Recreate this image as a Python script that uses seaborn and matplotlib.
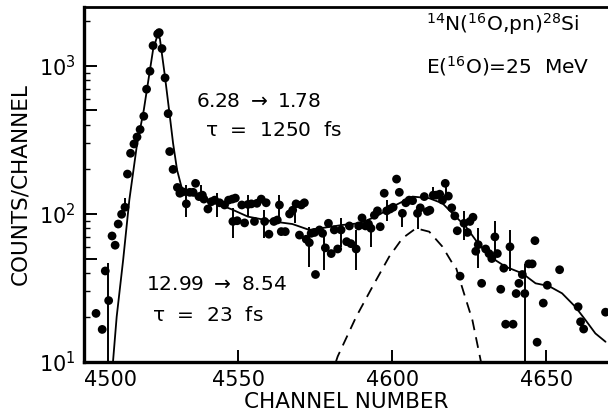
# 14N(16O,pn)28Si spectrum: counts per channel, log scale, with the lineshape
# fit (solid) and the fast 12.99 -> 8.54 component (dashed).
# Values.

import numpy as np
import pandas as pd
import seaborn as sns
import matplotlib.pyplot as plt
from matplotlib.ticker import FixedLocator, FixedFormatter, NullLocator

# measured points
chan = [4503.9, 4505.9, 4506.9, 4508.0, 4509.1, 4510.1, 4511.1, 4512.2, 4513.3, 4514.1,
        4515.1, 4516.2, 4517.2, 4518.2, 4519.4, 4520.3, 4521.4, 4522.4, 4523.9, 4524.4,
        4525.3, 4526.3, 4527.3, 4527.8, 4528.9, 4530.3, 4531.1, 4532.1, 4533.2, 4534.3,
        4535.4, 4536.2, 4537.3, 4538.4, 4538.9, 4540.2, 4541.3, 4542.4, 4544.0, 4545.6,
        4546.9, 4548.1, 4549.1, 4548.3, 4549.7, 4551.2, 4552.1, 4553.2, 4554.3, 4555.3,
        4556.1, 4557.5, 4558.6, 4559.1, 4560.0, 4561.6, 4562.7, 4563.4, 4564.0, 4565.3,
        4566.7, 4567.7, 4568.8, 4570.5, 4571.5, 4569.9, 4572.1, 4573.1, 4573.7, 4574.8,
        4575.1, 4576.4, 4577.4, 4578.3, 4579.3, 4580.2, 4581.2, 4582.3, 4583.4, 4585.2,
        4586.6, 4586.1, 4588.3, 4589.1, 4590.2, 4591.3, 4592.3, 4593.1, 4594.2, 4595.2,
        4596.1, 4597.4, 4598.2, 4599.3, 4600.3, 4601.4, 4602.3, 4603.3, 4604.4, 4605.5,
        4606.6, 4608.2, 4609.1, 4610.4, 4611.4, 4612.2, 4613.3, 4614.3, 4615.4, 4616.3,
        4617.2, 4618.2, 4619.3, 4620.3, 4621.1, 4622.0, 4623.3, 4624.4, 4625.2, 4626.2,
        4627.1, 4627.9, 4629.0, 4630.3, 4631.4, 4632.3, 4633.3, 4634.1, 4635.2, 4636.2,
        4636.8, 4638.2, 4639.2, 4640.2, 4641.1, 4642.2, 4643.0, 4644.3, 4645.4, 4646.3,
        4647.0, 4649.0, 4650.3, 4654.3, 4660.3, 4661.1, 4662.1, 4669.2]
counts = [21.3, 16.6, 41.2, 26, 71, 61.5, 85.5, 99.5, 111, 186,
          257, 297, 331, 372, 457, 696, 921, 1371, 1644, 1679,
          1309, 830, 476, 264, 200, 151, 138, 141, 117, 140,
          140, 161, 131, 134, 126, 108, 121, 124, 119, 115,
          124, 126, 128, 89, 90, 115, 87, 116, 117, 89,
          118, 126, 89, 119, 73, 89, 91, 115, 76, 76,
          100, 106, 117, 115, 119, 72, 67.5, 64, 74, 75,
          39, 78, 74, 59, 86.5, 54, 78, 58, 78, 65,
          63, 83, 58, 83, 94, 83, 85.5, 80, 98, 105,
          82, 138, 105, 108, 111, 172, 140, 101, 119, 124,
          123, 101, 110, 131, 104, 106, 134, 134, 136, 124,
          161, 132, 110, 97, 77, 38, 86.5, 75, 89, 95,
          56, 62, 34, 58, 54, 50, 70, 54, 31, 43,
          18, 60, 18, 29, 34, 39, 29, 46, 46, 66,
          13.6, 25, 33, 42, 23.6, 18.7, 16.7, 21.7]

# statistical error bars (channel, low, high)
err_chan = [4507.9, 4513.3, 4533.2, 4538.1, 4543.3, 4548.3, 4553.2, 4558.4, 4563.4, 4568.3,
            4573.1, 4578.0, 4583.4, 4588.3, 4593.1, 4598.2, 4603.3, 4608.2, 4613.3, 4617.4,
            4623.3, 4627.9, 4633.3, 4638.2, 4643.0]
err_lo = [5, 106, 96, 124, 96, 68.5, 96, 68.5, 96, 86.5,
          44, 42, 60, 42, 60, 89, 82, 79, 131, 134,
          67, 43, 49, 41, 5]
err_hi = [47, 129, 157, 157, 138, 109, 134, 106, 134, 124,
          82, 78, 94, 78, 82, 124, 101, 101, 153, 161,
          104, 80, 89, 78, 46]

# full fit
fit_chan = [4509.4, 4510.6, 4512.7, 4514.7, 4517.1, 4519.4, 4521.4, 4522.4, 4523.7, 4524.6,
            4526.2, 4527.6, 4528.9, 4530.2, 4531.6, 4533.2, 4537.0, 4542.4, 4547.8, 4553.2,
            4561.8, 4567.6, 4573.1, 4583.9, 4589.3, 4594.7, 4600.1, 4606.6, 4612.0, 4616.3,
            4620.6, 4623.9, 4628.2, 4632.5, 4636.8, 4642.2, 4646.5, 4650.8, 4655.1, 4659.4,
            4662.7, 4665.9, 4669.2]
fit_counts = [10, 20.2, 48.9, 124, 285, 504, 940, 1282, 1578, 1538,
              869, 504, 300, 198, 153, 138, 131, 118.7, 107.7, 95.9,
              88.7, 85.5, 78, 84.3, 86.5, 95.9, 112, 131, 127.7, 118,
              95.9, 82, 61.8, 50.2, 44, 39.7, 34, 32.6, 29.1, 23.6,
              19.2, 15.6, 13.7]

# 12.99 -> 8.54 component
comp_chan = [4581.7, 4582.3, 4588.3, 4593.6, 4599.0, 4603.3, 4607.7, 4612.0, 4616.3, 4619.5,
             4620.6, 4623.3, 4626.0, 4628.8]
comp_counts = [10, 10.9, 20.2, 32.3, 51.4, 68.5, 80, 75.9, 60.1, 46.5,
               44, 29, 19.2, 10]

x_ticks = [4500, 4550, 4600, 4650]
x_labels = ['4500', '4550', '4600', '4650']
y_ticks = [10, 50, 100, 500, 1000]
y_labels = ['$10^1$', '', '$10^2$', '', '$10^3$']

sns.set_style("ticks")
plt.rcParams['font.family'] = ['DejaVu Sans']
plt.rcParams['mathtext.default'] = 'regular'
plt.rcParams['text.color'] = 'black'
plt.rcParams['axes.labelcolor'] = 'black'
plt.rcParams['axes.edgecolor'] = 'black'

pts = pd.DataFrame({'chan': chan, 'counts': counts})
fit = pd.DataFrame({'chan': fit_chan, 'counts': fit_counts})
comp = pd.DataFrame({'chan': comp_chan, 'counts': comp_counts})

fig = plt.figure(figsize=(6.08, 4.19), dpi=100)
ax = fig.add_axes([84/608, 57/419, 524/608, 355/419])

ax.vlines(err_chan, err_lo, err_hi, color='black', lw=1.4, zorder=2)
sns.lineplot(ax=ax, data=fit, x='chan', y='counts', sort=False, estimator=None,
             color='black', lw=1.3, zorder=3)
sns.lineplot(ax=ax, data=comp, x='chan', y='counts', sort=False, estimator=None,
             color='black', lw=1.3, dashes=False, zorder=3)
ax.lines[-1].set_linestyle((0, (6, 4)))
sns.scatterplot(ax=ax, data=pts, x='chan', y='counts', s=40, color='black',
                edgecolor='none', zorder=4)

ax.set_yscale('log')
ax.set_xlim(4500, 4670)
ax.set_ylim(10, 2500)

ax.xaxis.set_major_locator(FixedLocator(x_ticks))
ax.xaxis.set_major_formatter(FixedFormatter(x_labels))
ax.xaxis.set_minor_locator(NullLocator())
ax.yaxis.set_major_locator(FixedLocator(y_ticks))
ax.yaxis.set_major_formatter(FixedFormatter(y_labels))
ax.yaxis.set_minor_locator(FixedLocator([20, 30, 40, 60, 70, 80, 90,
                                         200, 300, 400, 600, 700, 800, 900, 2000]))

ax.tick_params(axis='both', which='major', direction='in', length=9, width=1.4,
               labelsize=15, colors='black', pad=6)
ax.tick_params(axis='y', which='minor', direction='in', length=4, width=1.0,
               colors='black')
ax.tick_params(axis='x', top=False)
ax.tick_params(axis='y', right=False)
ax.get_xticklabels()[0].set_horizontalalignment('left')

for side in ['left', 'bottom']:
    ax.spines[side].set_linewidth(2.4)
ax.spines['top'].set_linewidth(2.0)
ax.spines['right'].set_visible(False)

ax.set_xlabel('CHANNEL NUMBER', fontsize=15.5, labelpad=1)
ax.set_ylabel('COUNTS/CHANNEL', fontsize=15.5, labelpad=6)

ax.text(0.214, 0.735, '6.28 $\\rightarrow$ 1.78', transform=ax.transAxes,
        fontsize=14.5, va='center', ha='left')
ax.text(0.231, 0.651, '$\\tau$  =  1250  fs', transform=ax.transAxes,
        fontsize=14.5, va='center', ha='left')
ax.text(0.118, 0.217, '12.99 $\\rightarrow$ 8.54', transform=ax.transAxes,
        fontsize=14.5, va='center', ha='left')
ax.text(0.130, 0.132, '$\\tau$  =  23  fs', transform=ax.transAxes,
        fontsize=14.5, va='center', ha='left')
ax.text(0.653, 0.952, '$^{14}$N($^{16}$O,pn)$^{28}$Si', transform=ax.transAxes,
        fontsize=14.5, va='center', ha='left')
ax.text(0.653, 0.834, 'E($^{16}$O)=25  MeV', transform=ax.transAxes,
        fontsize=14.5, va='center', ha='left')

fig.savefig('out.png', dpi=100)
